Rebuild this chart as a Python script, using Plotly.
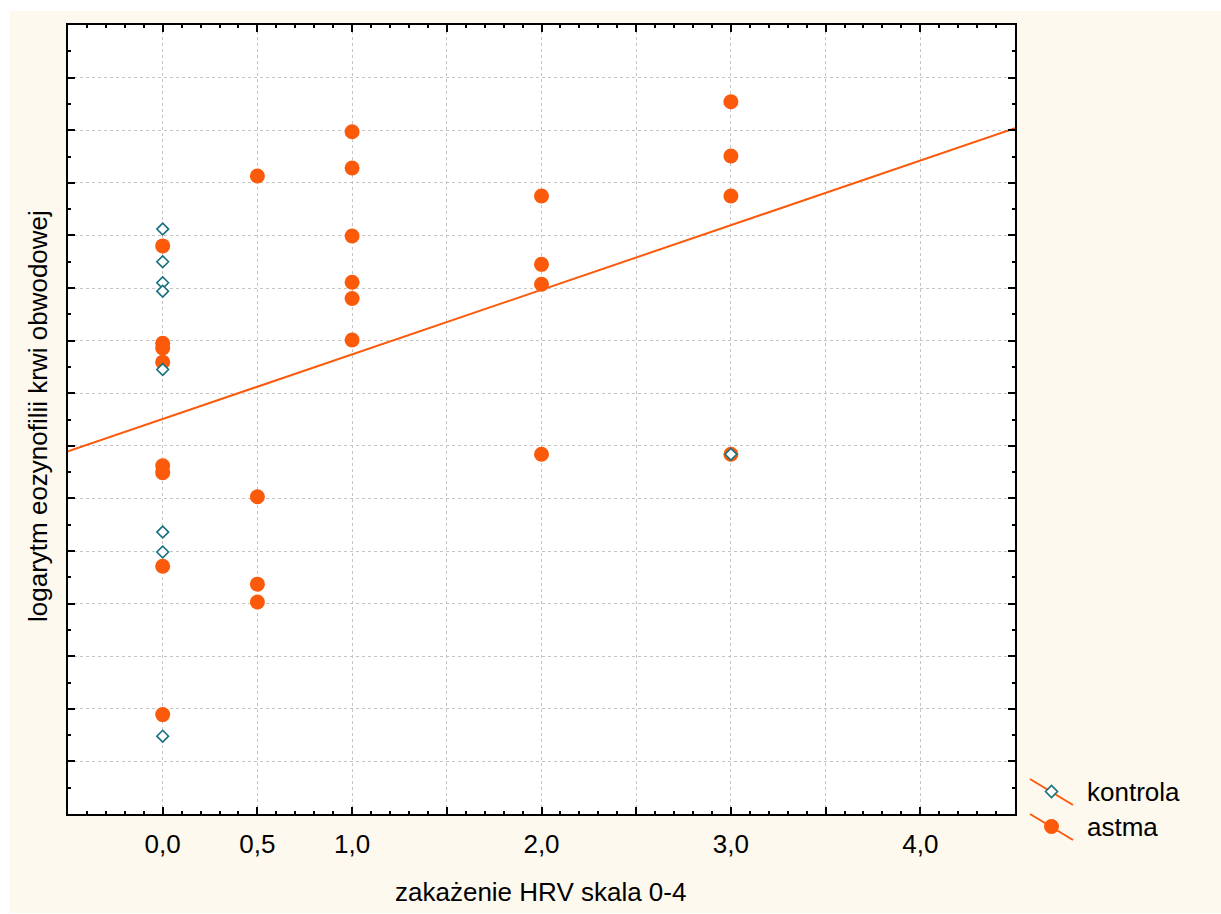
import plotly.graph_objects as go

# ---- data -------------------------------------------------------------
# HRV infection score (x) and log of peripheral blood eosinophils (y)
kontrola_x = [0, 0, 0, 0, 0, 0, 0, 0, 3]
kontrola_y = [11.12, 10.50, 10.10, 9.94, 8.45, 5.36, 4.98, 1.48, 6.84]

astma_x = [0, 0, 0, 0, 0, 0, 0, 0,
           0.5, 0.5, 0.5, 0.5,
           1, 1, 1, 1, 1, 1,
           2, 2, 2, 2,
           3, 3, 3, 3]
astma_y = [10.80, 8.95, 8.86, 8.59, 6.62, 6.49, 4.71, 1.89,
           12.13, 6.03, 4.37, 4.03,
           12.97, 12.28, 10.99, 10.11, 9.80, 9.01,
           11.75, 10.45, 10.07, 6.84,
           13.54, 12.51, 11.75, 6.84]

# fitted regression line y = a + b*x
fit_intercept = 7.51
fit_slope = 1.228

x_tickvals = [-0.5, 0, 0.5, 1, 1.5, 2, 2.5, 3, 3.5, 4, 4.5]
x_ticktext = ["", "0,0", "0,5", "1,0", "", "2,0", "", "3,0", "", "4,0", ""]

x_title = "zakażenie HRV skala 0-4"
y_title = "logarytm eozynofilii krwi obwodowej"
series_names = ["kontrola", "astma"]

# ---- style ------------------------------------------------------------
ORANGE = "#FB5A0B"
TEAL = "#17707F"
CREAM = "#FEF9EE"
GRID = "#C4C4C4"
FONT = "Liberation Sans, Arial, sans-serif"
FS = 26

W, H = 1221, 914
L, R, T, B = 68, 206, 25, 100
PW, PH = W - L - R, H - T - B


def px2x(px):
    return (px - L) / PW


def px2y(py):
    return (H - B - py) / PH


x_range = [-0.5, 4.5]
line_x = x_range
line_y = [fit_intercept + fit_slope * v for v in line_x]

fig = go.Figure()

fig.add_trace(go.Scatter(
    x=line_x, y=line_y, mode="lines",
    line=dict(color=ORANGE, width=2), showlegend=False, hoverinfo="skip",
))
fig.add_trace(go.Scatter(
    x=astma_x, y=astma_y, mode="markers", name=series_names[1],
    marker=dict(symbol="circle", size=15, color=ORANGE, line=dict(width=0)),
    showlegend=False,
))
fig.add_trace(go.Scatter(
    x=kontrola_x, y=kontrola_y, mode="markers", name=series_names[0],
    marker=dict(symbol="diamond", size=9, color="white",
                line=dict(color=TEAL, width=1.6)),
    showlegend=False,
))

axis_common = dict(
    showline=True, linewidth=2, linecolor="black", mirror="allticks",
    ticks="inside", ticklen=7, tickwidth=1.5, tickcolor="black",
    showgrid=True, gridcolor=GRID, gridwidth=1, griddash="3px,3px",
    zeroline=False,
)

fig.update_xaxes(
    range=x_range, tickmode="array", tickvals=x_tickvals, ticktext=x_ticktext,
    tickfont=dict(family=FONT, size=FS, color="black"),
    ticklabelstandoff=6,
    minor=dict(tickmode="linear", tick0=0, dtick=0.1, ticks="inside",
               ticklen=3, tickwidth=1.5, tickcolor="black", showgrid=False),
    **axis_common,
)
fig.update_yaxes(
    range=[0, 15], tickmode="linear", tick0=0, dtick=1, showticklabels=False,
    minor=dict(tickmode="linear", tick0=0, dtick=0.5, ticks="inside",
               ticklen=3, tickwidth=1.5, tickcolor="black", showgrid=False),
    **axis_common,
)

shapes = [
    # cream page panel and white plotting area
    dict(type="rect", xref="paper", yref="paper", layer="below",
         x0=px2x(10), x1=px2x(1221), y0=px2y(913), y1=px2y(11),
         fillcolor=CREAM, line=dict(width=0)),
    dict(type="rect", xref="paper", yref="paper", layer="below",
         x0=0, x1=1, y0=0, y1=1, fillcolor="white", line=dict(width=0)),
]

# legend keys: slanted line with the series marker in its middle
legend_rows = [(791.5, "diamond"), (826.5, "circle")]
for cy, kind in legend_rows:
    cx = 1051.5
    shapes.append(dict(type="line", xref="paper", yref="paper",
                       x0=px2x(cx - 21.5), y0=px2y(cy - 12.5),
                       x1=px2x(cx + 21.5), y1=px2y(cy + 13.5),
                       line=dict(color=ORANGE, width=2)))
    if kind == "circle":
        shapes.append(dict(type="circle", xref="paper", yref="paper",
                           xsizemode="pixel", ysizemode="pixel",
                           xanchor=px2x(cx), yanchor=px2y(cy),
                           x0=-7.5, x1=7.5, y0=-7.5, y1=7.5,
                           fillcolor=ORANGE, line=dict(width=0)))
    else:
        shapes.append(dict(type="path", xref="paper", yref="paper",
                           xsizemode="pixel", ysizemode="pixel",
                           xanchor=px2x(cx), yanchor=px2y(cy),
                           path="M -6 0 L 0 6 L 6 0 L 0 -6 Z",
                           fillcolor="white", line=dict(color=TEAL, width=1.6)))

annotations = [
    dict(text=x_title, xref="paper", yref="paper", x=px2x(540), y=px2y(892),
         xanchor="center", yanchor="middle", showarrow=False,
         font=dict(family=FONT, size=FS, color="black")),
    dict(text=y_title, xref="paper", yref="paper", x=px2x(38), y=px2y(416),
         xanchor="center", yanchor="middle", textangle=-90, showarrow=False,
         font=dict(family=FONT, size=FS, color="black")),
]
for (cy, _), name in zip(legend_rows, series_names):
    annotations.append(dict(text=name, xref="paper", yref="paper",
                            x=px2x(1085), y=px2y(cy), xanchor="left",
                            yanchor="middle", showarrow=False,
                            font=dict(family=FONT, size=FS, color="black")))

fig.update_layout(
    width=W, height=H,
    margin=dict(l=L, r=R, t=T, b=B, pad=0),
    paper_bgcolor="white", plot_bgcolor="rgba(0,0,0,0)",
    shapes=shapes, annotations=annotations,
    showlegend=False, hovermode="closest",
)

fig.write_html("out.html")
